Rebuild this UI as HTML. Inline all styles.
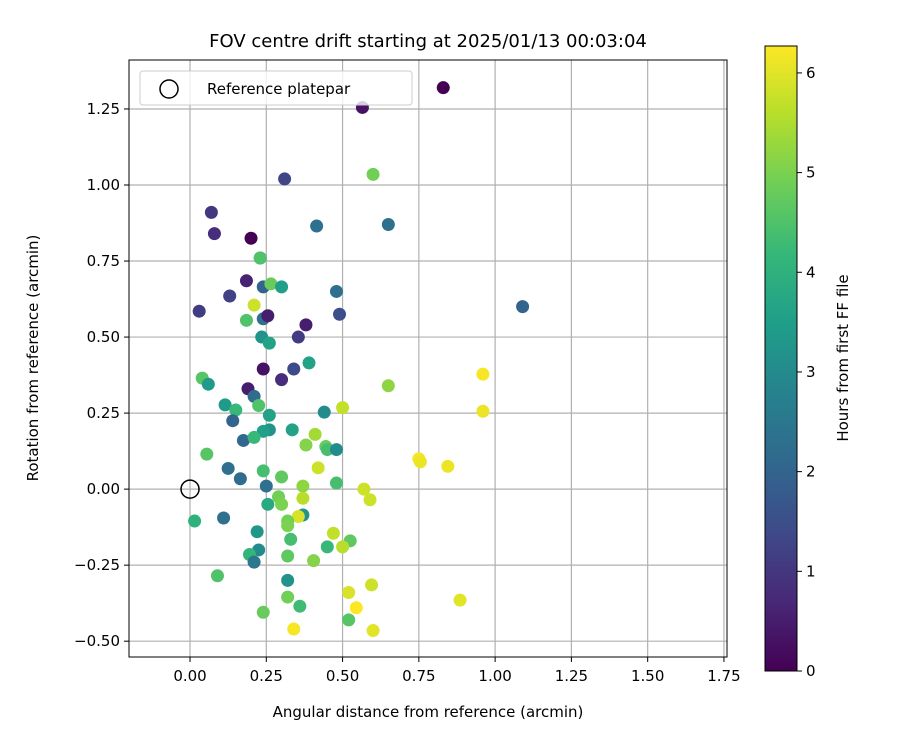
<!DOCTYPE html>
<html><head><meta charset="utf-8"><style>
body{margin:0;background:#fff;font-family:"DejaVu Sans","Liberation Sans",sans-serif}
svg text{font-family:"DejaVu Sans","Liberation Sans",sans-serif}
</style></head><body>
<svg id="chart" width="900" height="750" xmlns="http://www.w3.org/2000/svg">
<defs><linearGradient id="vir" x1="0" y1="1" x2="0" y2="0"></linearGradient></defs>
<rect width="900" height="750" fill="#fff"/>
<g id="grid"></g><g id="pts"></g><g id="axes"></g>
</svg>
<script>
const xVals=[.83,.565,.31,.60,.07,.08,.20,.415,.65,.23,.23,.185,.24,.265,.30,.48,.13,.21,.03,.185,.24,.255,.49,.38,.355,.235,.26,.39,.24,.34,.30,.19,.04,.06,.65,.96,.96,.21,.115,.225,.15,.26,.50,.44,.14,.335,.26,.24,.175,.21,.41,.38,.445,.45,.48,.055,.125,.165,.24,.30,.42,.48,.75,.755,.845,.57,.59,.25,.37,.29,.30,.255,.37,.37,.355,.015,.11,.32,.32,.22,.33,.47,.525,.45,.50,.225,.195,.21,.32,.405,.09,.32,.52,.595,.32,.36,.545,.52,.24,.34,.60,.885,1.09];
const yVals=[1.32,1.255,1.02,1.035,.91,.84,.825,.865,.87,.76,.76,.685,.665,.675,.665,.65,.635,.605,.585,.555,.56,.57,.575,.54,.50,.50,.48,.415,.395,.395,.36,.33,.365,.345,.34,.378,.256,.305,.277,.275,.26,.243,.268,.253,.225,.195,.195,.19,.16,.17,.18,.145,.14,.13,.13,.115,.068,.034,.06,.04,.07,.02,.10,.09,.075,0,-.035,.01,.01,-.025,-.05,-.05,-.03,-.085,-.09,-.105,-.095,-.105,-.12,-.14,-.165,-.145,-.17,-.19,-.19,-.20,-.215,-.24,-.22,-.235,-.285,-.30,-.34,-.315,-.355,-.385,-.39,-.43,-.405,-.46,-.465,-.365,.60];
const hours=[0,.3,1.3,4.9,1,.8,0,2.3,2.3,2.5,4.5,.6,2,4.8,3.5,2.3,1.2,5.8,1.1,4.5,2.3,.5,1.5,.5,1.1,3.2,3.6,3.6,.3,1.4,.8,.5,4.6,3.4,5.2,6.2,6.1,2.2,3.4,4.5,4.2,3.6,5.7,3,2,3.6,3.2,3.5,2.1,4.2,5.4,5.1,4.8,4.4,3,4.6,2.3,2.2,4.4,4.7,5.8,4.4,6.2,6.1,6.1,5.8,5.8,2.3,5.2,4.9,5,3.8,5.6,3.2,5.9,4,2.3,4.9,5,3.3,4.4,5.7,4.7,4.2,5.6,3,4.1,2.5,4.7,5.1,4.5,3.2,5.9,5.8,4.9,4.3,6.3,4.6,4.8,6.2,6,6,2];
const xTicks=[0,.25,.5,.75,1,1.25,1.5,1.75];
const yTicks=[-.5,-.25,0,.25,.5,.75,1,1.25];
const cTicks=[0,1,2,3,4,5,6];
const L=129,R=727,T=60,B=657,X0=-0.2,X1=1.76,Y0=-0.552,Y1=1.411;
const sx=v=>L+(v-X0)/(X1-X0)*(R-L), sy=v=>B-(v-Y0)/(Y1-Y0)*(B-T);
const CMIN=0,CMAX=6.27;
const vir=[[68,1,84],[72,40,120],[62,74,137],[49,104,142],[38,130,142],[31,158,137],[53,183,121],[110,206,88],[181,222,43],[253,231,37]];
function cmap(h){let t=Math.max(0,Math.min(1,(h-CMIN)/(CMAX-CMIN)))*(vir.length-1);let i=Math.min(Math.floor(t),vir.length-2),f=t-i;const c=vir[i].map((a,k)=>Math.round(a+(vir[i+1][k]-a)*f));return `rgb(${c})`;}
const NS="http://www.w3.org/2000/svg";
function mk(tag,at,par,txt){const e=document.createElementNS(NS,tag);for(const k in at)e.setAttribute(k,at[k]);if(txt!==undefined)e.textContent=txt;par.appendChild(e);return e;}
const svg=document.getElementById('chart'),grid=document.getElementById('grid'),pts=document.getElementById('pts'),ax=document.getElementById('axes');
xTicks.forEach(v=>{const x=sx(v);
const g=mk('line',{x1:x,x2:x,y1:T,y2:B,stroke:'#b0b0b0','stroke-width':1.2},grid);


mk('line',{x1:x,x2:x,y1:B,y2:B+5,stroke:'#000'},ax);
const t=mk('text',{x:x,y:B+24,'text-anchor':'middle','font-size':15},ax,v.toFixed(2));

});
yTicks.forEach(v=>{const y=sy(v);
const g=mk('line',{x1:L,x2:R,y1:y,y2:y,stroke:'#b0b0b0','stroke-width':1.2},grid);


mk('line',{x1:L-5,x2:L,y1:y,y2:y,stroke:'#000'},ax);
const t=mk('text',{x:L-9,y:y+5,'text-anchor':'end','font-size':15},ax,(v<0?'\u2212'+Math.abs(v).toFixed(2):v.toFixed(2)));

});
xVals.forEach((v,i)=>{const c=mk('circle',{cx:sx(v),cy:sy(yVals[i]),r:6.5,fill:cmap(hours[i])},pts);

});
const ref=mk('circle',{cx:sx(0),cy:sy(0),r:9,fill:'none',stroke:'#000','stroke-width':1.5},pts);


const fr=mk('rect',{x:L,y:T,width:R-L,height:B-T,fill:'none',stroke:'#000','stroke-width':1},ax);


const lg=mk('rect',{x:140,y:71,width:272,height:34,rx:3,fill:'#fff','fill-opacity':0.8,stroke:'#ccc'},ax);


mk('circle',{cx:169,cy:89,r:9,fill:'none',stroke:'#000','stroke-width':1.5},ax);
const lt=mk('text',{x:207,y:94,'font-size':15},ax,'Reference platepar');


const ti=mk('text',{x:428,y:47,'text-anchor':'middle','font-size':18},ax,'FOV centre drift starting at 2025/01/13 00:03:04');


const xt=mk('text',{x:428,y:717,'text-anchor':'middle','font-size':15},ax,'Angular distance from reference (arcmin)');


const yt=mk('text',{x:0,y:0,'text-anchor':'middle','font-size':15,transform:'translate(38,358) rotate(-90)'},ax,'Rotation from reference (arcmin)');


const grad=document.getElementById('vir');
vir.forEach((c,i)=>mk('stop',{offset:i/(vir.length-1),'stop-color':`rgb(${c})`},grad));
const CL=765,CR=797,CT=46,CB=671;
const cb=mk('rect',{x:CL,y:CT,width:CR-CL,height:CB-CT,fill:'url(#vir)',stroke:'#000'},ax);


cTicks.forEach(v=>{const y=CB-(v-CMIN)/(CMAX-CMIN)*(CB-CT);
mk('line',{x1:CR,x2:CR+5,y1:y,y2:y,stroke:'#000'},ax);
const t=mk('text',{x:CR+9,y:y+5,'font-size':15},ax,String(v));

});
const ct=mk('text',{x:0,y:0,'text-anchor':'middle','font-size':15,transform:'translate(848,358) rotate(-90)'},ax,'Hours from first FF file');


</script>
</body></html>
